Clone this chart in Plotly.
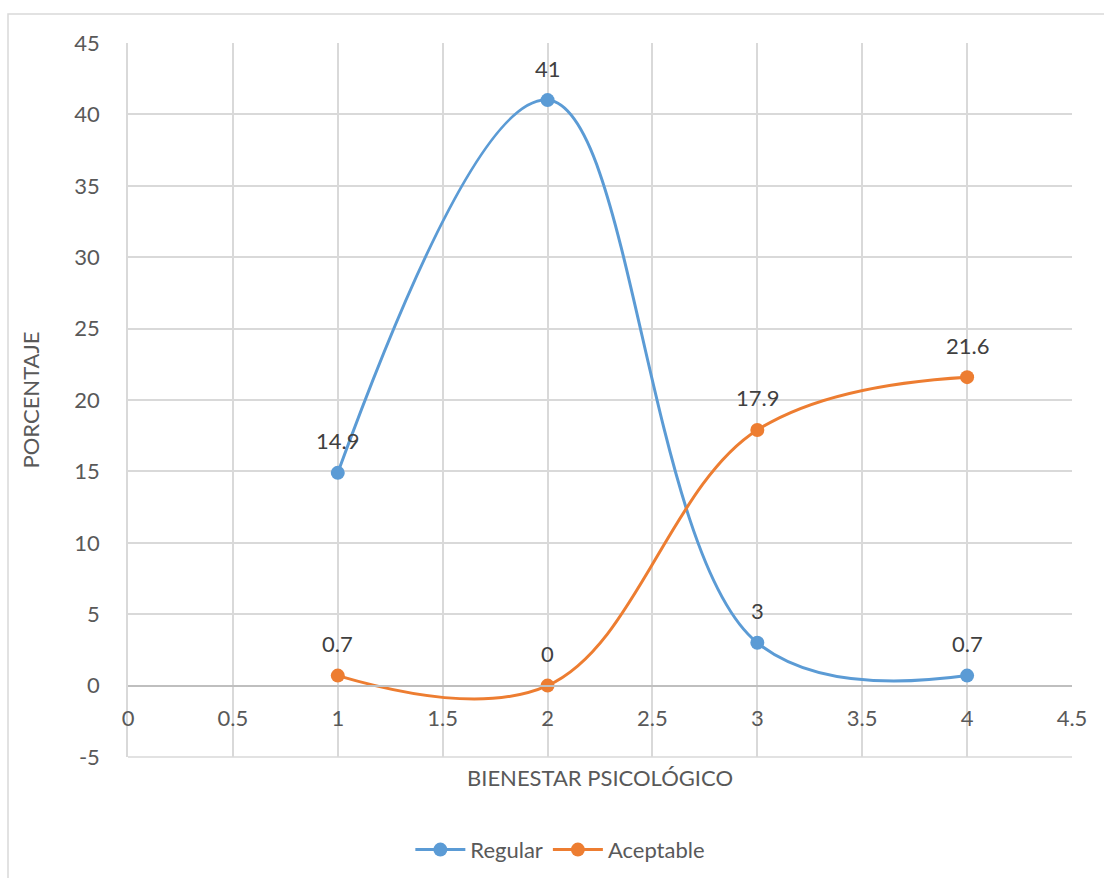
import plotly.graph_objects as go

# Bienestar psicológico: porcentaje por nivel
niveles = [1, 2, 3, 4]
regular = [14.9, 41, 3, 0.7]
aceptable = [0.7, 0, 17.9, 21.6]

x_ticks = [0, 0.5, 1, 1.5, 2, 2.5, 3, 3.5, 4, 4.5]
x_tick_text = ["0", "0.5", "1", "1.5", "2", "2.5", "3", "3.5", "4", "4.5"]
y_ticks = [-5, 0, 5, 10, 15, 20, 25, 30, 35, 40, 45]
y_tick_text = ["-5", "0", "5", "10", "15", "20", "25", "30", "35", "40", "45"]

AZUL = "#5B9BD5"
NARANJA = "#ED7D31"
GRIS_TEXTO = "#595959"
GRIS_GRID = "#D9D9D9"
FONT = "Lato"
FS = 22

W, H = 1104, 878
L, R, T, B = 128, 32, 43, 121

fig = go.Figure()
for nombre, valores, color in [("Regular", regular, AZUL), ("Aceptable", aceptable, NARANJA)]:
    fig.add_trace(go.Scatter(
        x=niveles, y=valores, name=nombre, mode="lines+markers",
        line=dict(color=color, width=3, shape="spline", smoothing=1.1),
        marker=dict(color=color, size=14),
        cliponaxis=False,
    ))

# etiquetas de datos sobre cada punto
annotations = []
for valores in (regular, aceptable):
    for xv, yv in zip(niveles, valores):
        annotations.append(dict(
            x=xv, y=yv, xref="x", yref="y", text=f"{yv:g}", showarrow=False,
            yshift=32, font=dict(family=FONT, size=FS, color="#404040"),
        ))

y_zero_frac = (0 - (-5)) / (45 - (-5))

fig.update_layout(
    width=W, height=H,
    margin=dict(l=L, r=R, t=T, b=B, autoexpand=False),
    paper_bgcolor="white", plot_bgcolor="white",
    font=dict(family=FONT, size=FS, color=GRIS_TEXTO),
    showlegend=True,
    legend=dict(orientation="h", x=0.458, xanchor="center", y=-0.13, yanchor="middle",
                font=dict(family=FONT, size=FS, color=GRIS_TEXTO), itemwidth=50,
                traceorder="normal"),
    annotations=annotations,
    xaxis=dict(
        range=[0, 4.5], tickvals=x_ticks, ticktext=x_tick_text,
        showgrid=True, gridcolor=GRIS_GRID, gridwidth=1.5,
        showline=True, linecolor="#BFBFBF", linewidth=2,
        zeroline=False, anchor="free", position=y_zero_frac, automargin=False,
        ticks="", ticklabelstandoff=13,
        title=dict(text="BIENESTAR PSICOLÓGICO", standoff=40,
                   font=dict(family=FONT, size=FS, color=GRIS_TEXTO)),
    ),
    yaxis=dict(
        range=[-5, 45], tickvals=y_ticks, ticktext=y_tick_text,
        showgrid=True, gridcolor=GRIS_GRID, gridwidth=1.5,
        showline=True, linecolor=GRIS_GRID, linewidth=1.5,
        zeroline=False, ticks="", ticklabelstandoff=22, automargin=False,
        title=dict(text="PORCENTAJE", standoff=29,
                   font=dict(family=FONT, size=FS, color=GRIS_TEXTO)),
    ),
    shapes=[
        # marco del área del gráfico
        dict(type="rect", xref="paper", yref="paper",
             x0=(8 - L) / (W - L - R), x1=(W + 20 - L) / (W - L - R),
             y0=(H - B - (H + 20)) / (H - T - B), y1=(H - B - 14) / (H - T - B),
             line=dict(color=GRIS_GRID, width=1.5), fillcolor="rgba(0,0,0,0)", layer="below"),
        # borde inferior del área de trazado (-5)
        dict(type="line", xref="paper", yref="paper", x0=0, x1=1, y0=0, y1=0,
             line=dict(color=GRIS_GRID, width=1.5), layer="below"),
    ],
)

fig.write_html("out.html")
